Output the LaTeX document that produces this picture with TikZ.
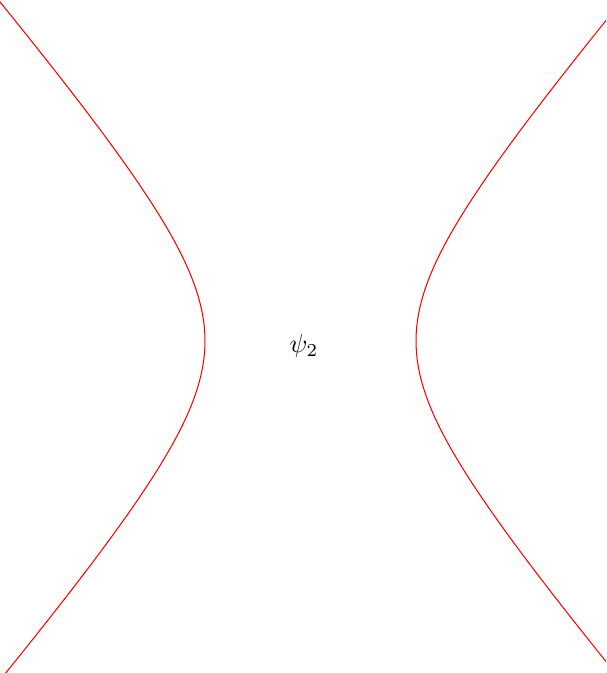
\documentclass[tikz,border=0pt]{standalone}
\usepackage{tikz}

\begin{document}
\begin{tikzpicture}[
      x=0.0135cm, y=0.0135cm,
      branch/.style={red, thin, samples=120, variable=\t, domain=-1.85:1.85}
    ]
      \useasboundingbox (-310.5,-332) rectangle (295.5,341);
      \clip (-310.5,-332) rectangle (295.5,341);

      \draw[branch] plot ({-105.5*cosh(\t)}, {122.5*sinh(\t)});
      \draw[branch] plot ({105.5*cosh(\t)}, {122.5*sinh(\t)});

      \node (psi) at (-6.5,-5) {$\psi_2$};
    \end{tikzpicture}
\end{document}
